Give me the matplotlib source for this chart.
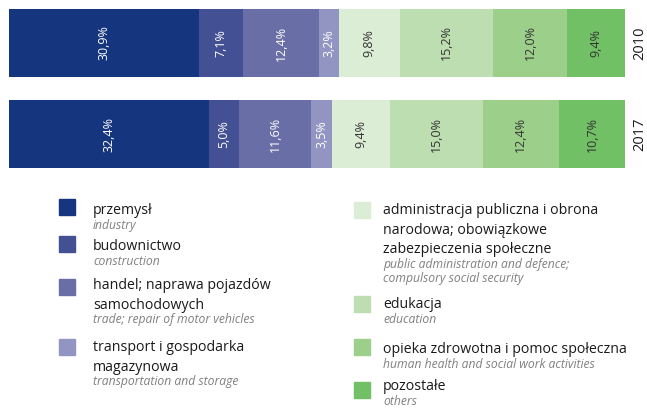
import matplotlib.pyplot as plt
from matplotlib.patches import Rectangle

plt.rcParams['font.family'] = ['Open Sans', 'DejaVu Sans']

years = ["2010", "2017"]
sectors_pl = [
    "przemysł",
    "budownictwo",
    "handel; naprawa pojazdów\nsamochodowych",
    "transport i gospodarka\nmagazynowa",
    "administracja publiczna i obrona\nnarodowa; obowiązkowe\nzabezpieczenia społeczne",
    "edukacja",
    "opieka zdrowotna i pomoc społeczna",
    "pozostałe",
]
sectors_en = [
    "industry",
    "construction",
    "trade; repair of motor vehicles",
    "transportation and storage",
    "public administration and defence;\ncompulsory social security",
    "education",
    "human health and social work activities",
    "others",
]
shares_2010 = [30.9, 7.1, 12.4, 3.2, 9.8, 15.2, 12.0, 9.4]
shares_2017 = [32.4, 5.0, 11.6, 3.5, 9.4, 15.0, 12.4, 10.7]
colors = ["#16357f", "#435093", "#6a6ea6", "#9295c2",
          "#dcedd6", "#bcdeb0", "#9cd08a", "#72c065"]
label_colors = ["white"] * 4 + ["#333333"] * 4

W, H = 647, 411
fig = plt.figure(figsize=(W / 100, H / 100), dpi=100)

# bar area (pixel coords measured from top-left)
x0, x1, y_top, y_bot = 9, 625, 9, 168
ax = fig.add_axes([x0 / W, 1 - y_bot / H, (x1 - x0) / W, (y_bot - y_top) / H])
bar_h = 0.747
for i, vals in enumerate([shares_2010, shares_2017]):
    left = 0
    for v, c, lc in zip(vals, colors, label_colors):
        ax.barh(i, v, left=left, height=bar_h, color=c, edgecolor="none")
        ax.text(left + v / 2, i, f"{v:.1f}%".replace(".", ","), rotation=90,
                ha="center", va="center", color=lc, fontsize=9)
        left += v
    ax.text(102.4, i, years[i], rotation=90, ha="center", va="center",
            fontsize=10.5, color="#1a1a1a", clip_on=False)
ax.set_xlim(0, sum(shares_2010))
ax.set_ylim(1 + bar_h / 2, -bar_h / 2)
ax.axis("off")

# legend, drawn by hand in two columns
def px(x, y):
    return x / W, 1 - y / H

sq = 16
# (square x, square top, first title baseline)
legend_pos = [(59, 199, 214), (59, 236, 250), (59, 279, 289), (59, 339, 351),
              (354, 202, 214), (354, 296, 308), (354, 339, 353), (354, 382, 390)]
title_gap = 19.5
sub_gap = 14.5
for (lx, ly, base), pl, en, c in zip(legend_pos, sectors_pl, sectors_en, colors):
    fig.add_artist(Rectangle(px(lx, ly + sq), sq / W, sq / H, color=c,
                             transform=fig.transFigure))
    tx = lx + 34 if lx < 300 else lx + 29
    y = base
    for k, line in enumerate(pl.split("\n")):
        y = base + k * title_gap
        fig.text(*px(tx, y), line, ha="left", va="baseline", fontsize=10.2,
                 color="#1a1a1a")
    for k, line in enumerate(en.split("\n")):
        fig.text(*px(tx, y + sub_gap * (k + 1)), line, ha="left", va="baseline",
                 fontsize=8.7, style="italic", color="#808080")

fig.savefig("out.png", dpi=100)
